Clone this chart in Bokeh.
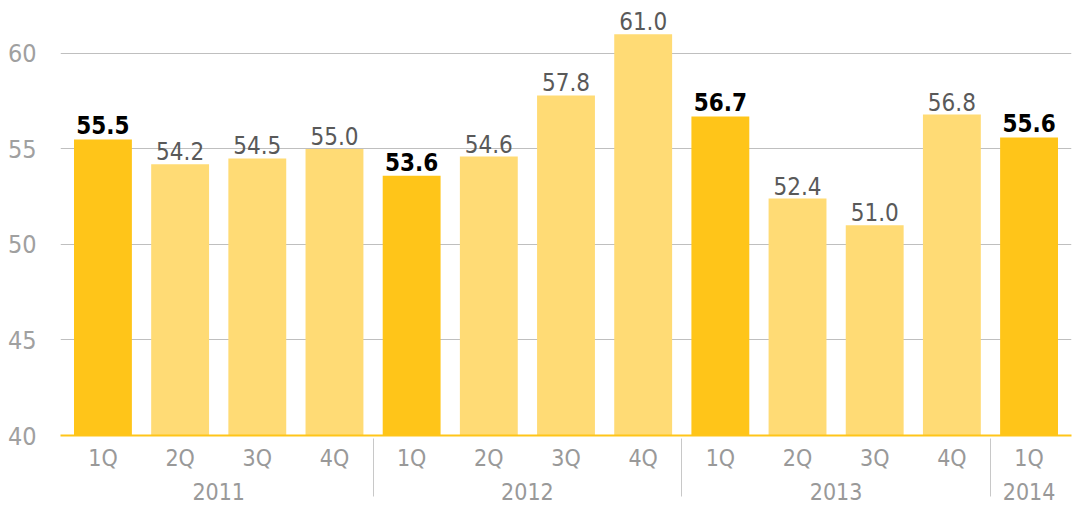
from bokeh.plotting import figure
from bokeh.models import FactorRange, Range1d, ColumnDataSource, FixedTicker
from bokeh.core.properties import value
from bokeh.embed import file_html
from bokeh.resources import INLINE

years = ["2011", "2011", "2011", "2011", "2012", "2012", "2012", "2012",
         "2013", "2013", "2013", "2013", "2014"]
quarters = ["1Q", "2Q", "3Q", "4Q", "1Q", "2Q", "3Q", "4Q",
            "1Q", "2Q", "3Q", "4Q", "1Q"]
values = [55.5, 54.2, 54.5, 55.0, 53.6, 54.6, 57.8, 61.0,
          56.7, 52.4, 51.0, 56.8, 55.6]
y_ticks = [40, 45, 50, 55, 60]

FONT = "DejaVu Sans Condensed"
DARK = "#FFC519"
LIGHT = "#FFDB75"

factors = list(zip(years, quarters))
hi = [q == "1Q" for q in quarters]

src_hi = ColumnDataSource(dict(
    x=[f for f, h in zip(factors, hi) if h],
    top=[v for v, h in zip(values, hi) if h],
    label=["%.1f" % v for v, h in zip(values, hi) if h],
))
src_lo = ColumnDataSource(dict(
    x=[f for f, h in zip(factors, hi) if not h],
    top=[v for v, h in zip(values, hi) if not h],
    label=["%.1f" % v for v, h in zip(values, hi) if not h],
))

xr = FactorRange(*factors, group_padding=0, factor_padding=0,
                 range_padding=0.05, range_padding_units="absolute")

p = figure(x_range=xr, y_range=Range1d(40, 62.77), width=1085, height=510,
           output_backend="svg", toolbar_location=None,
           min_border_left=60, min_border_right=14, min_border_top=0,
           min_border_bottom=75)
p.outline_line_color = None
p.background_fill_color = "white"

p.vbar(x="x", top="top", bottom=40, width=0.75, source=src_lo,
       fill_color=LIGHT, line_color=None)
p.vbar(x="x", top="top", bottom=40, width=0.75, source=src_hi,
       fill_color=DARK, line_color=None)

p.text(x="x", y="top", text="label", source=src_lo, text_align="center",
       text_baseline="bottom", y_offset=-4, text_color="#595959",
       text_font=value(FONT), text_font_size="24px")
p.text(x="x", y="top", text="label", source=src_hi, text_align="center",
       text_baseline="bottom", y_offset=-5, text_color="black",
       text_font=value(FONT), text_font_size="24px", text_font_style="bold")

# grid
p.xgrid.grid_line_color = None
p.ygrid.grid_line_color = "#BFBFBF"
p.ygrid.grid_line_width = 1
p.ygrid.ticker = FixedTicker(ticks=y_ticks)

# y axis
ya = p.yaxis[0]
ya.ticker = FixedTicker(ticks=y_ticks)
ya.axis_line_color = None
ya.major_tick_line_color = None
ya.minor_tick_line_color = None
ya.major_tick_out = 0
ya.major_label_standoff = 24
ya.major_label_text_color = "#A0A0A0"
ya.major_label_text_font = FONT
ya.major_label_text_font_size = "25px"

# x axis
xa = p.xaxis[0]
xa.axis_line_color = DARK
xa.axis_line_width = 2
xa.major_tick_line_color = None
xa.major_tick_out = 0
xa.major_label_standoff = 9
xa.major_label_text_color = "#999999"
xa.major_label_text_font = FONT
xa.major_label_text_font_size = "23px"
xa.group_text_color = "#999999"
xa.group_text_font = FONT
xa.group_text_font_size = "23px"
xa.group_text_font_style = "normal"
xa.separator_line_color = "#C8C8C8"
xa.separator_line_width = 1

open("out.html", "w").write(file_html(p, INLINE))
